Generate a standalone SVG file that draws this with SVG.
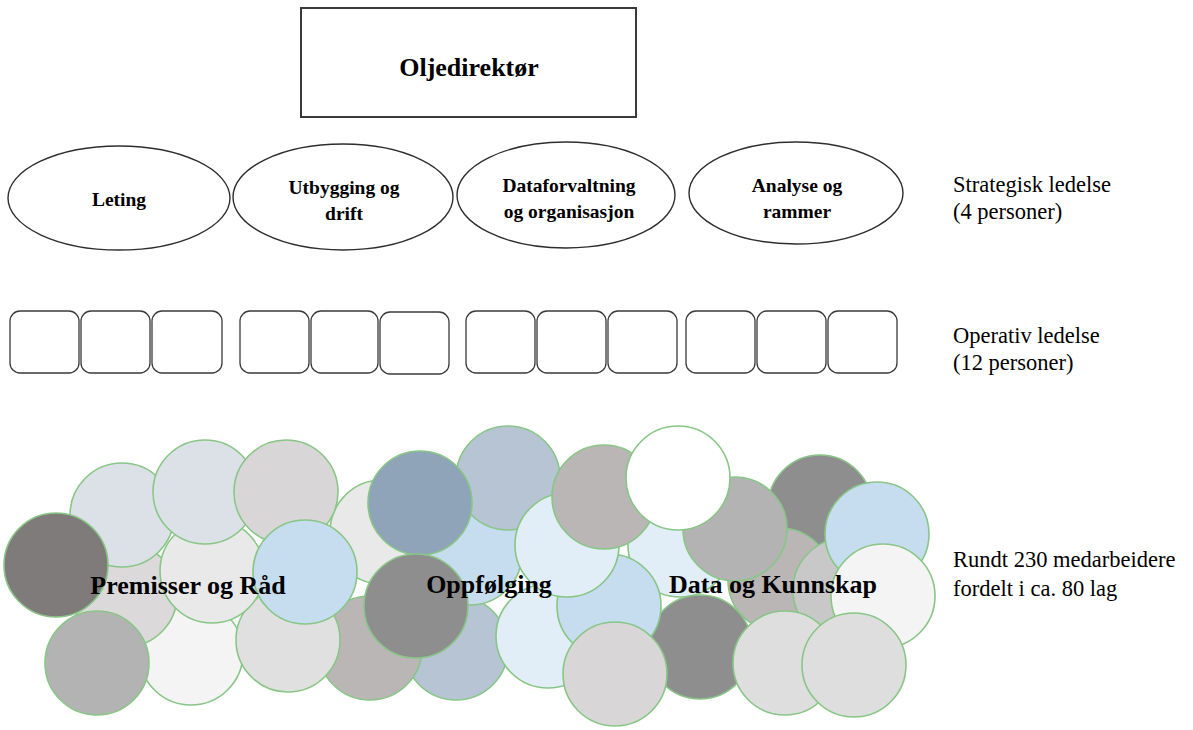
<svg xmlns="http://www.w3.org/2000/svg" width="1193" height="730" viewBox="0 0 1193 730">
<style>
.bg{fill:#ffffff}
.box{fill:#ffffff;stroke:#3a3a3a;stroke-width:2}
.ell{fill:#ffffff;stroke:#2e2e2e;stroke-width:1.4}
.sq{fill:#ffffff;stroke:#3a3a3a;stroke-width:1.3}
.c{stroke:#88c686;stroke-width:1.6}
.tb{font-family:"Liberation Serif","Times New Roman",serif;font-weight:bold;fill:#000;text-anchor:middle}
.t1{font-size:26px}
.t2{font-size:19.5px}
.t3{font-size:26px}
.lbl{font-family:"Liberation Serif","Times New Roman",serif;font-size:22.5px;fill:#000}
</style>
<rect class="bg" x="0" y="0" width="1193" height="730"/>

<g id="oljedirektor">
<rect class="box" x="301" y="8" width="335" height="109"/>
<text class="tb t1" x="469" y="76">Oljedirektør</text>
</g>

<g id="leting">
<ellipse class="ell" cx="119" cy="198" rx="111" ry="52"/>
<text class="tb t2" x="119" y="206">Leting</text>
</g>
<g id="utbygging">
<ellipse class="ell" cx="343" cy="197" rx="110" ry="53"/>
<text class="tb t2" x="344" y="194">Utbygging og</text>
<text class="tb t2" x="344" y="220">drift</text>
</g>
<g id="dataforvaltning">
<ellipse class="ell" cx="566" cy="195" rx="109" ry="53"/>
<text class="tb t2" x="569" y="192">Dataforvaltning</text>
<text class="tb t2" x="569" y="218">og organisasjon</text>
</g>
<g id="analyse">
<ellipse class="ell" cx="796" cy="193" rx="107" ry="51"/>
<text class="tb t2" x="797" y="192">Analyse og</text>
<text class="tb t2" x="797" y="218">rammer</text>
</g>

<g id="operativ">
<rect class="sq" x="10" y="311" width="69" height="62" rx="10"/>
<rect class="sq" x="81" y="311" width="69" height="62" rx="10"/>
<rect class="sq" x="152" y="311" width="70" height="62" rx="10"/>
<rect class="sq" x="240" y="311" width="69" height="62" rx="10"/>
<rect class="sq" x="311" y="311" width="67" height="62" rx="10"/>
<rect class="sq" x="380" y="312" width="69" height="62" rx="10"/>
<rect class="sq" x="466" y="311" width="69" height="62" rx="10"/>
<rect class="sq" x="537" y="311" width="69" height="62" rx="10"/>
<rect class="sq" x="608" y="311" width="69" height="62" rx="10"/>
<rect class="sq" x="686" y="311" width="69" height="62" rx="10"/>
<rect class="sq" x="757" y="311" width="69" height="62" rx="10"/>
<rect class="sq" x="828" y="311" width="69" height="62" rx="10"/>
</g>

<g id="medarbeidere">
<circle class="c" cx="382" cy="532" r="52" fill="#e9e9e9"/>
<circle class="c" cx="456" cy="648" r="52" fill="#b6c4d3"/>
<circle class="c" cx="370" cy="648" r="52" fill="#bab6b6"/>
<circle class="c" cx="191" cy="653" r="52" fill="#f4f4f4"/>
<circle class="c" cx="125" cy="595" r="52" fill="#dbd9da"/>
<circle class="c" cx="288" cy="640" r="52" fill="#e0e0e0"/>
<circle class="c" cx="212" cy="571" r="52" fill="#e9e9e9"/>
<circle class="c" cx="122" cy="515" r="52" fill="#dce1e8"/>
<circle class="c" cx="205" cy="492" r="52" fill="#dce1e8"/>
<circle class="c" cx="286" cy="492" r="52" fill="#d8d6d7"/>
<circle class="c" cx="305" cy="572" r="52" fill="#c6dcef"/>
<circle class="c" cx="56" cy="565" r="52" fill="#7f7b7b"/>
<circle class="c" cx="97" cy="663" r="52" fill="#b3b3b3"/>
<circle class="c" cx="470" cy="553" r="52" fill="#c6dcef"/>
<circle class="c" cx="508" cy="478" r="52" fill="#b6c4d3"/>
<circle class="c" cx="420" cy="503" r="52" fill="#8fa3b9"/>
<circle class="c" cx="416" cy="606" r="52" fill="#8e8e8e"/>
<circle class="c" cx="548" cy="636" r="52" fill="#e1edf7"/>
<circle class="c" cx="680" cy="545" r="52" fill="#e1edf7"/>
<circle class="c" cx="820" cy="507" r="52" fill="#8e8e8e"/>
<circle class="c" cx="780" cy="580" r="52" fill="#bab6b6"/>
<circle class="c" cx="700" cy="647" r="52" fill="#8e8e8e"/>
<circle class="c" cx="609" cy="606" r="52" fill="#c6dcef"/>
<circle class="c" cx="567" cy="545" r="52" fill="#e1edf7"/>
<circle class="c" cx="604" cy="497" r="52" fill="#bab6b6"/>
<circle class="c" cx="615" cy="674" r="52" fill="#d8d6d7"/>
<circle class="c" cx="735" cy="529" r="52" fill="#b3b3b3"/>
<circle class="c" cx="678" cy="478" r="52" fill="#ffffff"/>
<circle class="c" cx="845" cy="590" r="52" fill="#c8c8c8"/>
<circle class="c" cx="877" cy="534" r="52" fill="#c6dcef"/>
<circle class="c" cx="883" cy="596" r="52" fill="#f4f4f4"/>
<circle class="c" cx="785" cy="663" r="52" fill="#dedede"/>
<circle class="c" cx="854" cy="665" r="52" fill="#dedede"/>
<text class="tb t3" x="188" y="594">Premisser og Råd</text>
<text class="tb t3" x="489" y="593">Oppfølging</text>
<text class="tb t3" x="773" y="593">Data og Kunnskap</text>
</g>

<g id="labels">
<text class="lbl" x="953" y="192">Strategisk ledelse</text>
<text class="lbl" x="953" y="219">(4 personer)</text>
<text class="lbl" x="953" y="343">Operativ ledelse</text>
<text class="lbl" x="953" y="370">(12 personer)</text>
<text class="lbl" x="953" y="567">Rundt 230 medarbeidere</text>
<text class="lbl" x="953" y="596">fordelt i ca. 80 lag</text>
</g>
</svg>
